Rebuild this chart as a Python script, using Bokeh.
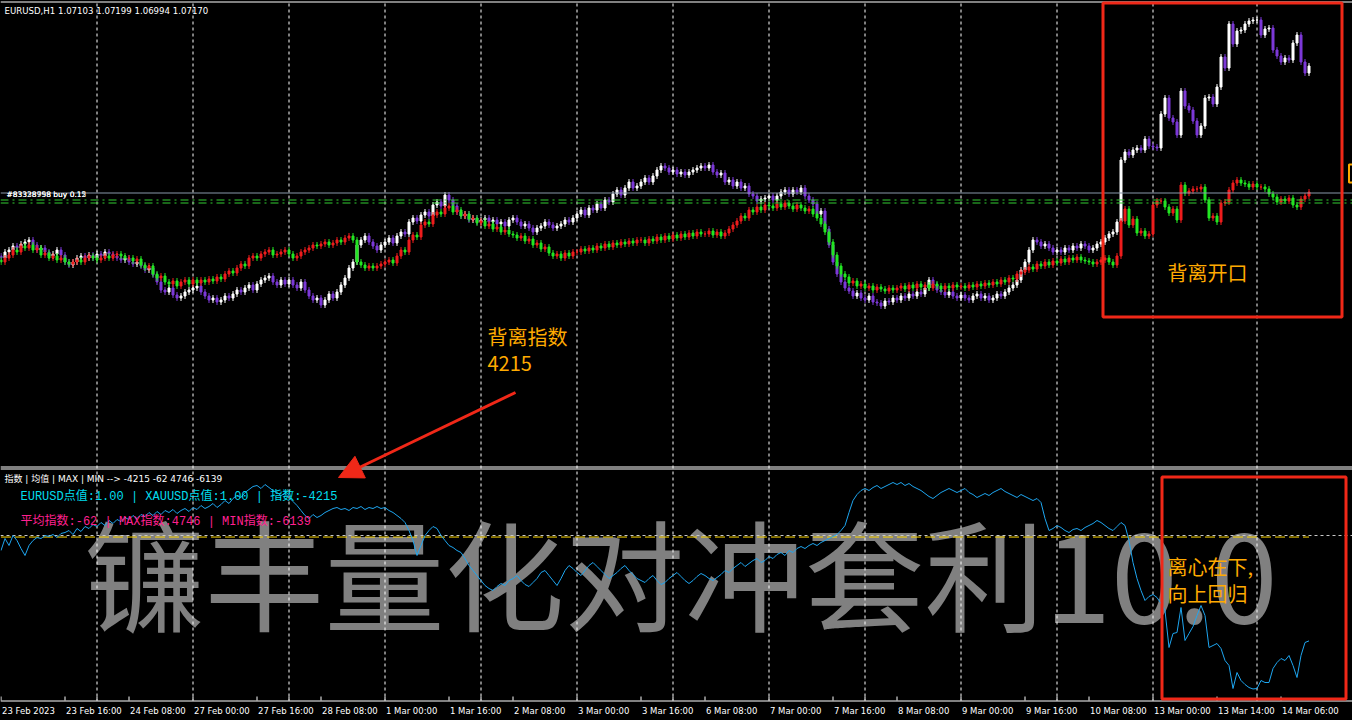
import numpy as np
from bokeh.plotting import figure
from bokeh.models import (ColumnDataSource, Range1d, Label, BoxAnnotation,
                          Arrow, NormalHead)
from bokeh.embed import file_html
from bokeh.resources import INLINE

# ---------------------------------------------------------------- data
chart_title = "EURUSD,H1  1.07103 1.07199 1.06994 1.07170"
price_base = 1.0396          # pip values below are pips above this price

tick_bars = [0, 16, 32, 48, 64, 80, 96, 112, 128, 144, 160, 176, 192, 208,
             224, 240, 256, 272, 288, 304, 320]
tick_labels = ["23 Feb 2023", "23 Feb 16:00", "24 Feb 08:00", "27 Feb 00:00",
               "27 Feb 16:00", "28 Feb 08:00", "1 Mar 00:00", "1 Mar 16:00",
               "2 Mar 08:00", "3 Mar 00:00", "3 Mar 16:00", "6 Mar 08:00",
               "7 Mar 00:00", "7 Mar 16:00", "8 Mar 08:00", "9 Mar 00:00",
               "9 Mar 16:00", "10 Mar 08:00", "13 Mar 00:00", "13 Mar 14:00",
               "14 Mar 06:00"]
grid_bars = [24, 48, 72, 96, 120, 144, 168, 192, 216, 240, 264, 288, 314]

# EURUSD H1 closes (pips above price_base)
eur_open_first = 131
eur_close = [
    129, 135, 137, 141, 139, 143, 145, 147, 142, 137, 139, 135, 131, 133, 137, 132,
    125, 122, 125, 129, 131, 129, 132, 129, 133, 131, 135, 133, 131, 129, 127, 129,
    125, 123, 125, 121, 117, 119, 112, 105, 97, 95, 99, 92, 89, 91, 95, 97,
    99, 101, 95, 91, 87, 89, 85, 87, 91, 89, 93, 97, 95, 99, 102, 97,
    103, 107, 109, 111, 105, 102, 107, 103, 107, 102, 99, 105, 97, 91, 87, 89,
    82, 87, 93, 89, 95, 102, 109, 119, 125, 142, 147, 151, 145, 141, 137, 142,
    145, 149, 144, 151, 155, 153, 165, 169, 166, 172, 175, 171, 182, 185, 181, 192,
    187, 181, 175, 171, 173, 167, 169, 165, 167, 169, 165, 167, 163, 165, 161, 167,
    169, 165, 161, 163, 159, 155, 159, 161, 165, 162, 159, 161, 163, 167, 165, 169,
    173, 177, 172, 179, 177, 183, 179, 187, 185, 193, 197, 192, 199, 205, 199, 201,
    205, 209, 205, 211, 217, 221, 219, 215, 217, 213, 215, 212, 215, 217, 219, 221,
    219, 222, 215, 212, 214, 205, 207, 201, 205, 199, 201, 193, 191, 186, 188, 189,
    191, 187, 191, 195, 197, 193, 197, 195, 199, 191, 187, 183, 173, 176, 158, 142,
    125, 113, 105, 99, 96, 91, 94, 89, 87, 91, 85, 84, 81, 86, 85, 89,
    87, 91, 89, 93, 91, 95, 93, 99, 107, 102, 97, 95, 92, 95, 91, 89,
    92, 89, 87, 91, 93, 89, 91, 87, 89, 93, 91, 95, 99, 102, 107, 117,
    125, 137, 147, 145, 141, 143, 139, 135, 137, 135, 139, 137, 141, 139, 143, 141,
    137, 139, 143, 145, 149, 153, 155, 165, 227, 235, 232, 237, 239, 237, 248, 241,
    240, 239, 273, 289, 269, 265, 252, 296, 281, 277, 266, 252, 261, 289, 290, 283,
    300, 330, 319, 363, 343, 356, 357, 363, 366, 367, 367, 352, 358, 359, 337, 331,
    325, 329, 327, 344, 352, 325, 314, 321,
]

# XAUUSD overlay closes, rescaled to the same pip axis
xau_open_first = 127
xau_close = [
    125, 129, 132, 137, 135, 141, 139, 142, 137, 139, 132, 134, 129, 131, 127, 129,
    125, 123, 125, 127, 125, 129, 131, 129, 127, 129, 131, 129, 132, 133, 131, 129,
    129, 126, 128, 122, 119, 121, 113, 109, 111, 105, 103, 106, 101, 105, 107, 103,
    107, 104, 107, 105, 108, 106, 110, 108, 113, 116, 114, 119, 123, 121, 129, 131,
    129, 133, 135, 137, 132, 133, 135, 137, 133, 129, 131, 135, 137, 139, 142, 141,
    143, 145, 142, 144, 147, 145, 149, 151, 147, 125, 122, 119, 121, 119, 121, 123,
    125, 127, 124, 131, 137, 135, 147, 152, 150, 162, 165, 163, 172, 175, 173, 179,
    181, 175, 177, 171, 173, 168, 169, 164, 166, 161, 163, 158, 160, 155, 157, 153,
    152, 149, 151, 146, 148, 142, 144, 138, 140, 134, 131, 133, 129, 134, 131, 135,
    135, 138, 136, 139, 137, 141, 139, 143, 140, 144, 142, 145, 143, 146, 144, 147,
    147, 144, 148, 146, 150, 147, 151, 148, 152, 149, 153, 150, 154, 151, 155, 153,
    153, 156, 152, 155, 151, 154, 158, 162, 166, 171, 169, 177, 175, 180, 177, 182,
    181, 179, 183, 180, 184, 181, 178, 182, 179, 176, 178, 173, 169, 163, 155, 145,
    132, 121, 113, 110, 104, 106, 101, 103, 99, 101, 97, 100, 98, 96, 99, 97,
    99, 101, 98, 102, 99, 103, 100, 102, 99, 103, 101, 98, 101, 99, 102, 100,
    101, 99, 102, 100, 103, 101, 104, 102, 105, 103, 107, 105, 109, 108, 113, 115,
    117, 120, 118, 123, 121, 125, 122, 126, 124, 128, 125, 129, 127, 130, 127, 126,
    125, 123, 125, 127, 129, 125, 122, 131, 166, 178, 162, 168, 154, 156, 151, 153,
    182, 186, 186, 180, 174, 178, 167, 202, 194, 196, 198, 198, 200, 187, 169, 171,
    165, 184, 185, 197, 204, 207, 204, 203, 200, 203, 200, 200, 198, 193, 190, 185,
    188, 186, 189, 182, 180, 188, 191, 195,
]

# divergence index (sub window)
divergence_index = [
    -600, -120, -400, 0, -200, -520, -800, -400, -200, -80, -120, 0, -40, 40, -80, 80,
    120, 200, 40, 280, 160, 360, 280, 440, 360, 520, 400, 600, 480, 640, 560, 720,
    640, 800, 680, 840, 760, 920, 800, 960, 840, 1000, 920, 1040, 880, 1000, 1080, 960,
    1120, 1040, 1200, 1080, 1160, 1280, 1120, 1240, 1400, 1280, 1480, 1600, 1520, 1720, 1840, 1960,
    2000, 1880, 2040, 1920, 1800, 1720, 1600, 1680, 1520, 1360, 1200, 1000, 800, 680, 840, 720,
    800, 920, 1000, 1080, 1120, 1040, 1080, 1000, 1120, 1080, 1160, 1040, 1120, 1080, 1160, 1080,
    1120, 1000, 920, 800, 680, 520, 200, -200, -800, -400, 0, 200, 360, 280, 0, -200,
    -400, -480, -600, -680, -920, -1200, -1400, -1600, -1800, -2000, -2120, -2200, -2040, -1920, -2000, -1800,
    -1720, -1600, -1800, -1960, -2040, -1880, -1720, -1480, -1400, -1600, -1800, -2000, -1720, -1400, -1200, -1320,
    -1480, -1600, -1400, -1200, -1080, -1240, -1400, -1560, -1720, -1600, -1480, -1320, -1200, -1400, -1560, -1720,
    -1800, -1880, -1720, -1600, -1800, -1960, -1880, -1720, -1600, -1480, -1640, -1800, -1920, -1800, -1640, -1520,
    -1600, -1720, -1800, -1680, -1560, -1400, -1480, -1320, -1200, -1080, -1240, -1120, -1000, -920, -1080, -1000,
    -840, -920, -760, -680, -800, -600, -680, -520, -440, -520, -400, -320, -400, -280, -200, -120,
    -40, 40, 200, 400, 920, 1400, 1640, 1800, 1880, 1800, 1920, 2000, 1880, 1960, 2040, 2120,
    2040, 2120, 2000, 2080, 1960, 1880, 1800, 1680, 1560, 1480, 1600, 1720, 1800, 1880, 1800, 1720,
    1800, 1880, 1720, 1640, 1520, 1600, 1680, 1600, 1720, 1800, 1880, 1760, 1680, 1600, 1520, 1640,
    1560, 1480, 1400, 1480, 1320, 680, 200, 280, 400, 320, 200, 120, 240, 280, 200, 320,
    400, 480, 600, 520, 400, 280, 200, 360, 520, 400, -200, -1080, -1720, -2200, -2600, -2440,
    -2360, -2480, -2720, -3000, -4480, -3920, -3880, -2880, -4200, -3920, -3640, -3200, -2800, -3200, -4480, -4400,
    -4320, -4520, -5000, -5200, -6120, -5480, -5800, -5960, -6080, -6139, -6120, -5800, -5880, -5880, -5320, -5080,
    -4920, -5000, -4800, -5200, -5680, -4800, -4280, -4215,
]
index_current, index_mean, index_max, index_min = -4215, -62, 4746, -6139
eur_point, xau_point = 1.00, 1.00

# ---------------------------------------------------------------- layout
W, H = 1352, 720
PX_PER_BAR = 4
AXIS_Y = 700                         # screen row of the time axis line
TOP_PIP = 386.5
SUB_TOP, SUB_PER_PX = 21400, 40


def bx(px):      # screen x -> bar units
    return px / PX_PER_BAR - 0.125


def my(py):      # screen y -> main pip units
    return TOP_PIP - py


def sy(py):      # screen y -> index units
    return SUB_TOP - py * SUB_PER_PX


p = figure(width=W, height=H, output_backend="svg", toolbar_location=None,
           x_range=Range1d(bx(0), bx(W)), y_range=Range1d(my(H), my(0)),
           x_axis_location=None, y_axis_location=None,
           min_border_left=0, min_border_right=0, min_border_top=0, min_border_bottom=0,
           background_fill_color="black", border_fill_color="black",
           outline_line_color=None)
p.extra_y_ranges = {"sub": Range1d(sy(H), sy(0))}
p.grid.visible = False


def hband(py, color="white"):
    """1px horizontal rule occupying screen row py."""
    return BoxAnnotation(left=bx(0), right=bx(W), top=my(py), bottom=my(py + 1),
                         fill_color=color, fill_alpha=1, line_color=None, line_alpha=0)


# vertical day grid (dashed), stops at the time axis
p.segment(x0=grid_bars, x1=grid_bars, y0=[my(3)] * len(grid_bars),
          y1=[my(AXIS_Y)] * len(grid_bars), line_color="white", line_dash="3 3", line_width=1)

# ---------------------------------------------------------------- candles
WICK = 3.0


def candle_source(first_open, closes, up_color, down_color):
    c = np.asarray(closes, dtype=float)
    o = np.concatenate([[first_open], c[:-1]])
    top = np.maximum(o, c)
    bot = np.minimum(o, c)
    col = np.where(c >= o, up_color, down_color).tolist()
    return ColumnDataSource(dict(x=np.arange(len(c)), top=top, bot=bot,
                                 hi=top + WICK, lo=bot - WICK, color=col))


for src in (candle_source(eur_open_first, eur_close, "#FFFFFF", "#7D38D8"),
            candle_source(xau_open_first, xau_close, "#EE1C1C", "#22E622")):
    p.segment(x0="x", y0="lo", x1="x", y1="hi", line_color="color", line_width=1, source=src)
    p.vbar(x="x", width=0.5, top="top", bottom="bot", fill_color="color",
           line_color="color", line_width=1, source=src)

# order lines
p.add_layout(hband(192, "#8898AA"))
for py in (199, 202):
    p.segment(x0=[bx(0)], x1=[bx(W)], y0=[my(py + 0.5)], y1=[my(py + 0.5)],
              line_color="#32CD32", line_width=1, line_dash="8 4 2 4")
for t in ("#83328758 buy 0.15", "#83338998 buy 0.12"):
    p.add_layout(Label(x=bx(6), y=my(194), text=t, text_baseline="middle",
                       text_font="DejaVu Sans", text_font_size="7.5px", text_color="white"))

p.add_layout(Label(x=bx(4), y=my(10.5), text=chart_title, text_baseline="middle",
                   text_font="DejaVu Sans", text_font_size="8.6px", text_color="white"))

# window borders and time axis line
for py in (1, 466, 468, AXIS_Y):
    p.add_layout(hband(py))

# time axis ticks and left aligned labels
all_ticks = sorted(set(tick_bars) | set(grid_bars))
p.segment(x0=all_ticks, x1=all_ticks, y0=[my(AXIS_Y)] * len(all_ticks),
          y1=[my(AXIS_Y - 4)] * len(all_ticks), line_color="white", line_width=1)
for b, t in zip(tick_bars, tick_labels):
    p.add_layout(Label(x=b, y=my(710), text=t, x_offset=1, text_align="left",
                       text_baseline="middle", text_font="DejaVu Sans",
                       text_font_size="8.5px", text_color="white"))

# ---------------------------------------------------------------- sub window
p.add_layout(Label(x=bx(84), y=sy(570), y_range_name="sub", text="镰丰量化对冲套利10.0",
                   text_font="Noto Sans CJK SC", text_font_size="120px",
                   text_color="#808080", text_baseline="middle", level="underlay"))

n_idx = len(divergence_index)
p.segment(x0=[bx(0)], x1=[bx(W)], y0=[0], y1=[0], y_range_name="sub",
          line_color="#C8C8C8", line_dash="3 3", line_width=1)
p.segment(x0=[0], x1=[n_idx - 1], y0=[index_mean], y1=[index_mean], y_range_name="sub",
          line_color="#FFD700", line_dash="10 4", line_width=1)
p.line(x=np.arange(n_idx), y=divergence_index, y_range_name="sub",
       line_color="#1EA6F0", line_width=1)

header = "指数 | 均值 | MAX | MIN --> %d %d %d %d" % (index_current, index_mean, index_max, index_min)
p.add_layout(Label(x=bx(4), y=sy(478), y_range_name="sub", text=header,
                   text_baseline="middle", text_font="DejaVu Sans, Noto Sans CJK SC",
                   text_font_size="9px", text_color="white"))
line1 = "EURUSD点值:%.2f | XAUUSD点值:%.2f | 指数:%d" % (eur_point, xau_point, index_current)
p.add_layout(Label(x=bx(20), y=sy(496), y_range_name="sub", text=line1,
                   text_baseline="middle", text_font="Liberation Mono, Noto Sans CJK SC",
                   text_font_size="12px", text_color="#00DDEE"))
line2 = "平均指数:%d | MAX指数:%d | MIN指数:%d" % (index_mean, index_max, index_min)
p.add_layout(Label(x=bx(20), y=sy(521), y_range_name="sub", text=line2,
                   text_baseline="middle", text_font="Liberation Mono, Noto Sans CJK SC",
                   text_font_size="12px", text_color="#FF2090"))

# ---------------------------------------------------------------- annotations
RED = "#F02818"
ORANGE = "#FFAA00"
box_style = dict(fill_color=None, fill_alpha=0, line_color=RED, line_alpha=1, line_width=3)
p.add_layout(BoxAnnotation(left=bx(1102.5), right=bx(1341.5), top=my(2.5), bottom=my(316.5),
                           **box_style))
p.add_layout(BoxAnnotation(left=bx(1161.5), right=bx(1345.5), top=sy(476.5), bottom=sy(698.5),
                           y_range_name="sub", **box_style))
p.add_layout(BoxAnnotation(left=bx(1348.5), right=bx(1360), top=my(164), bottom=my(182),
                           fill_color=None, fill_alpha=0, line_color=ORANGE, line_alpha=1,
                           line_width=2))

p.add_layout(Arrow(end=NormalHead(size=24, fill_color=RED, line_color=RED),
                   x_start=bx(515), y_start=my(392), x_end=bx(338), y_end=my(477),
                   line_color=RED, line_width=3))

cjk = "Noto Sans CJK SC"
for txt, px, py, rng in (("背离指数", 487, 336, None), ("4215", 487, 363, None),
                         ("背离开口", 1167, 272, None),
                         ("离心在下,", 1167, 566, "sub"), ("向上回归", 1167, 593, "sub")):
    if rng:
        lab = Label(x=bx(px), y=sy(py), y_range_name="sub", text=txt)
    else:
        lab = Label(x=bx(px), y=my(py), text=txt)
    lab.text_font = cjk
    lab.text_font_size = "20px"
    lab.text_color = ORANGE
    lab.text_baseline = "middle"
    p.add_layout(lab)

TEMPLATE = """{% block preamble %}<style>html,body{margin:0 !important;padding:0 !important;background:#000;overflow:hidden;}</style>{% endblock %}"""

open("out.html", "w").write(file_html(p, INLINE, title="EURUSD H1", template=TEMPLATE))
